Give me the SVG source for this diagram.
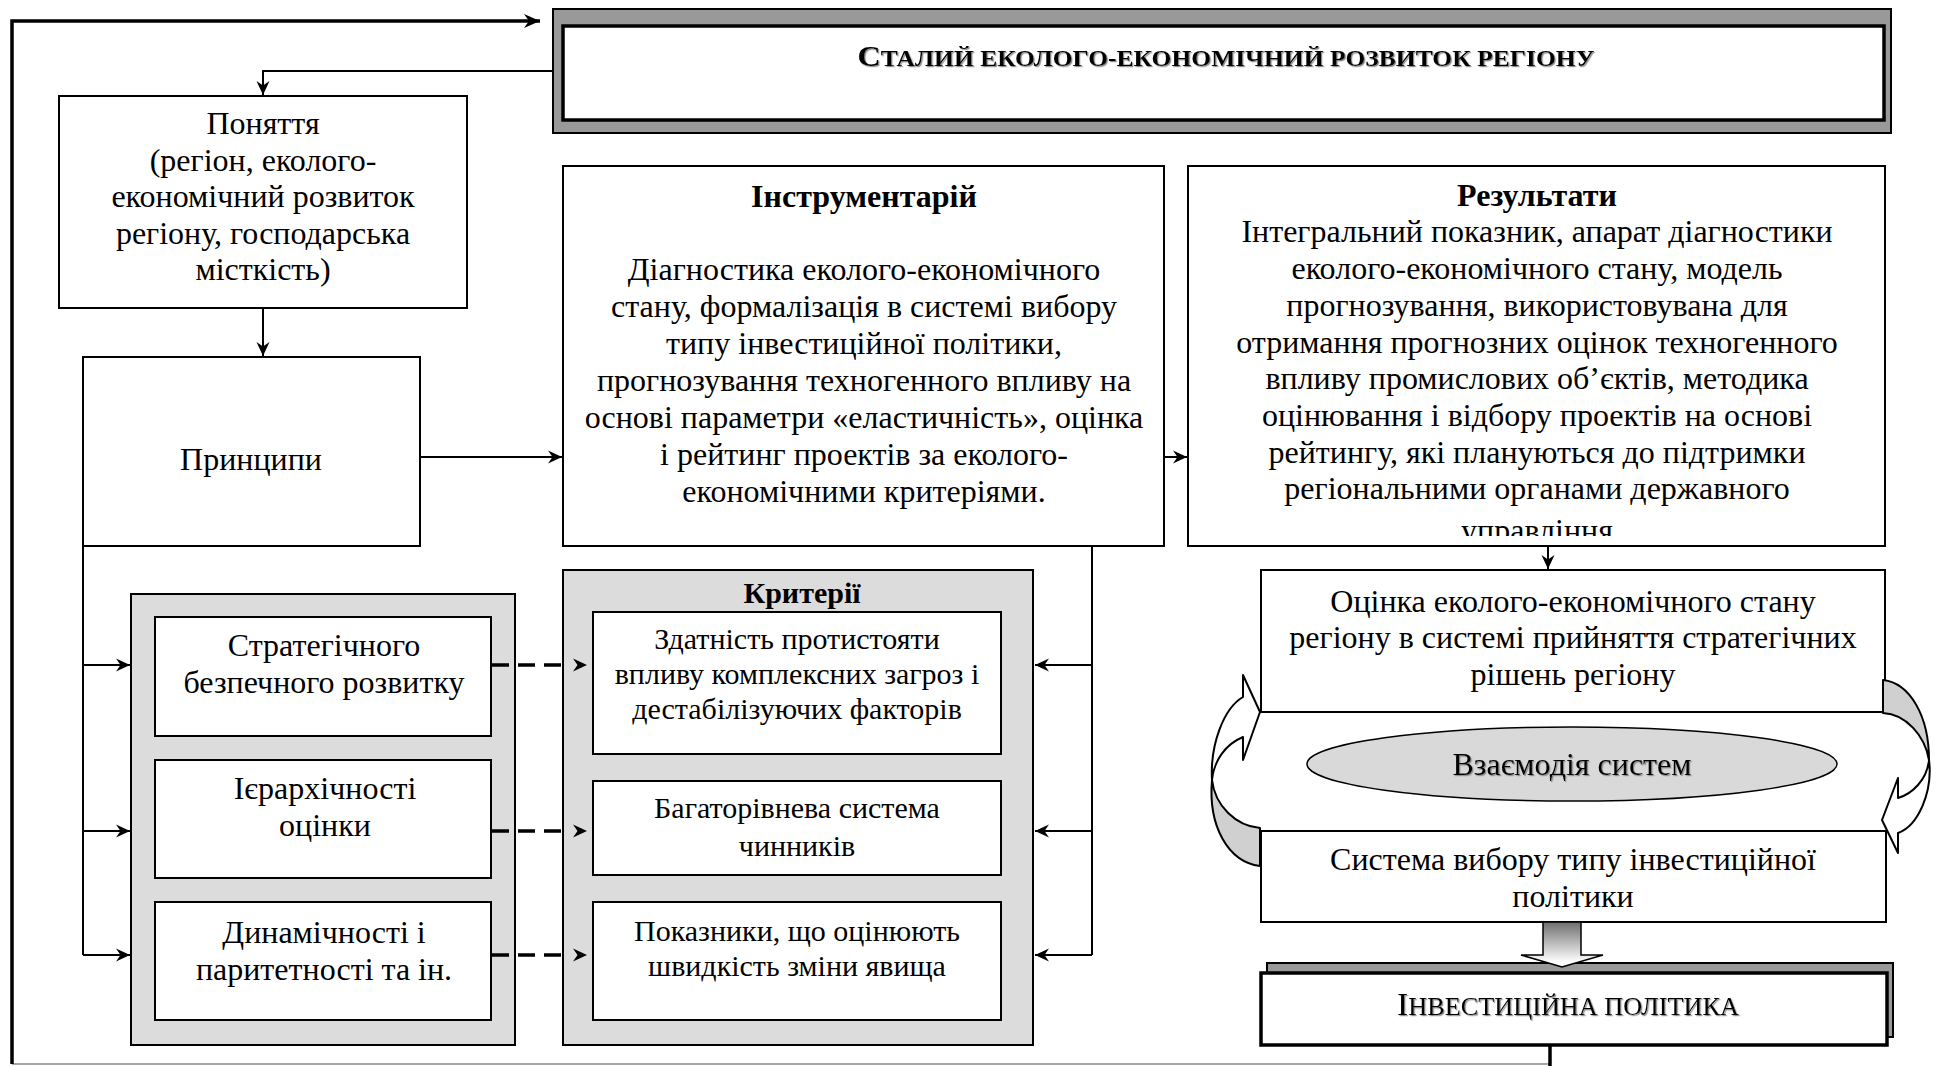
<svg xmlns="http://www.w3.org/2000/svg" width="1942" height="1066" viewBox="0 0 1942 1066">
  <style>
    .box { fill:#fff; stroke:#000; stroke-width:2; }
    .panel { fill:#dcdcdc; stroke:#000; stroke-width:2; }
    .t { font-family:"Liberation Serif","Times New Roman",serif; font-size:32px; text-anchor:middle; fill:#000; }
    .tc { font-size:30px; }
    .b { font-weight:bold; }
    .conn { fill:none; stroke:#000; stroke-width:2; }
    .thick { stroke-width:3.5; }
    .dash { stroke-width:3.5; stroke-dasharray:17 9; }
    .cyc { stroke:#000; stroke-width:2; stroke-linejoin:round; }
  </style>
  <defs>
    <marker id="ah" markerUnits="userSpaceOnUse" viewBox="-15 -8 16 16" refX="0" refY="0" markerWidth="16" markerHeight="16" orient="auto">
      <path d="M0,0 L-14,-6.5 L-9.5,0 L-14,6.5 Z" fill="#000"/>
    </marker>
    <!-- head set apart from the end of a dashed line -->
    <marker id="ahDash" markerUnits="userSpaceOnUse" viewBox="0 -8 28 16" refX="0" refY="0" markerWidth="28" markerHeight="16" orient="auto">
      <path d="M26,0 L12,-6.5 L16.5,0 L12,6.5 Z" fill="#000"/>
    </marker>
    <marker id="ahBig" markerUnits="userSpaceOnUse" viewBox="-17 -9 18 18" refX="0" refY="0" markerWidth="18" markerHeight="18" orient="auto">
      <path d="M0,0 L-16,-7 L-11,0 L-16,7 Z" fill="#000"/>
    </marker>
    <linearGradient id="shaft" x1="0" y1="922" x2="0" y2="962" gradientUnits="userSpaceOnUse">
      <stop offset="0" stop-color="#6e6e6e"/>
      <stop offset="1" stop-color="#ffffff"/>
    </linearGradient>
    <filter id="shadow" x="-5%" y="-20%" width="110%" height="150%">
      <feDropShadow dx="1.2" dy="1.2" stdDeviation="0.6" flood-color="#808080" flood-opacity="0.9"/>
    </filter>
    <clipPath id="resClip">
      <rect x="1188" y="166" width="697" height="370"/>
    </clipPath>
  </defs>

  <g id="title">
    <rect x="553" y="9" width="1338" height="124" fill="#999" stroke="#000" stroke-width="2"/>
    <rect x="563" y="26" width="1321" height="94" fill="#fff" stroke="#000" stroke-width="3.5"/>
    <text class="t b" x="1226" y="66" filter="url(#shadow)" textLength="737" lengthAdjust="spacingAndGlyphs"><tspan font-size="29">С</tspan><tspan font-size="23">ТАЛИЙ ЕКОЛОГО-ЕКОНОМІЧНИЙ РОЗВИТОК РЕГІОНУ</tspan></text>
  </g>

  <g id="concepts">
    <rect class="box" x="59" y="96" width="408" height="212"/>
    <text class="t" x="263" y="134">Поняття</text>
    <text class="t" x="263" y="171">(регіон, еколого-</text>
    <text class="t" x="263" y="207">економічний розвиток</text>
    <text class="t" x="263" y="244">регіону, господарська</text>
    <text class="t" x="263" y="280">місткість)</text>
  </g>

  <g id="principles">
    <rect class="box" x="83" y="357" width="337" height="189"/>
    <text class="t" x="251" y="470">Принципи</text>
  </g>

  <g id="tools">
    <rect class="box" x="563" y="166" width="601" height="380"/>
    <text class="t b" x="864" y="207">Інструментарій</text>
    <text class="t" x="864" y="280">Діагностика еколого-економічного</text>
    <text class="t" x="864" y="317">стану, формалізація в системі вибору</text>
    <text class="t" x="864" y="354">типу інвестиційної політики,</text>
    <text class="t" x="864" y="391">прогнозування техногенного впливу на</text>
    <text class="t" x="864" y="428">основі параметри «еластичність», оцінка</text>
    <text class="t" x="864" y="465">і рейтинг проектів за еколого-</text>
    <text class="t" x="864" y="502">економічними критеріями.</text>
  </g>

  <g id="results">
    <rect class="box" x="1188" y="166" width="697" height="380"/>
    <g clip-path="url(#resClip)">
      <text class="t b" x="1537" y="206">Результати</text>
      <text class="t" x="1537" y="242">Інтегральний показник, апарат діагностики</text>
      <text class="t" x="1537" y="279">еколого-економічного стану, модель</text>
      <text class="t" x="1537" y="316">прогнозування, використовувана для</text>
      <text class="t" x="1537" y="353">отримання прогнозних оцінок техногенного</text>
      <text class="t" x="1537" y="389">впливу промислових об’єктів, методика</text>
      <text class="t" x="1537" y="426">оцінювання і відбору проектів на основі</text>
      <text class="t" x="1537" y="463">рейтингу, які плануються до підтримки</text>
      <text class="t" x="1537" y="499">регіональними органами державного</text>
      <text class="t" x="1537" y="541">управління</text>
    </g>
  </g>

  <g id="principles-list">
    <rect class="panel" x="131" y="594" width="384" height="451"/>
    <g id="principle-strategic">
      <rect class="box" x="155" y="617" width="336" height="119"/>
      <text class="t" x="324" y="656">Стратегічного</text>
      <text class="t" x="324" y="693">безпечного розвитку</text>
    </g>
    <g id="principle-hierarchy">
      <rect class="box" x="155" y="760" width="336" height="118"/>
      <text class="t" x="325" y="799">Ієрархічності</text>
      <text class="t" x="325" y="836">оцінки</text>
    </g>
    <g id="principle-dynamics">
      <rect class="box" x="155" y="902" width="336" height="118"/>
      <text class="t" x="324" y="943">Динамічності і</text>
      <text class="t" x="324" y="980">паритетності та ін.</text>
    </g>
  </g>

  <g id="criteria">
    <rect class="panel" x="563" y="570" width="470" height="475"/>
    <text class="t tc b" x="802" y="603">Критерії</text>
    <g id="criterion-resilience">
      <rect class="box" x="593" y="612" width="408" height="142"/>
      <text class="t tc" x="797" y="649">Здатність протистояти</text>
      <text class="t tc" x="797" y="684">впливу комплексних загроз і</text>
      <text class="t tc" x="797" y="719">дестабілізуючих факторів</text>
    </g>
    <g id="criterion-factors">
      <rect class="box" x="593" y="781" width="408" height="94"/>
      <text class="t tc" x="797" y="818">Багаторівнева система</text>
      <text class="t tc" x="797" y="856">чинників</text>
    </g>
    <g id="criterion-indicators">
      <rect class="box" x="593" y="902" width="408" height="118"/>
      <text class="t tc" x="797" y="941">Показники, що оцінюють</text>
      <text class="t tc" x="797" y="976">швидкість зміни явища</text>
    </g>
  </g>

  <g id="assessment">
    <rect class="box" x="1261" y="570" width="624" height="142"/>
    <text class="t" x="1573" y="612">Оцінка еколого-економічного стану</text>
    <text class="t" x="1573" y="648">регіону в системі прийняття стратегічних</text>
    <text class="t" x="1573" y="685">рішень регіону</text>
  </g>

  <g id="interaction">
    <ellipse cx="1572" cy="764" rx="265" ry="37" fill="#d9d9d9" stroke="#000" stroke-width="1.5"/>
    <text class="t" x="1572" y="775" filter="url(#shadow)">Взаємодія систем</text>
  </g>

  <g id="policy-choice">
    <rect class="box" x="1261" y="831" width="625" height="91"/>
    <text class="t" x="1573" y="870">Система вибору типу інвестиційної</text>
    <text class="t" x="1573" y="907">політики</text>
  </g>

  <g id="investment-policy">
    <rect x="1267" y="963" width="626" height="74" fill="#999" stroke="#000" stroke-width="2"/>
    <rect x="1261" y="973" width="626" height="72" fill="#fff" stroke="#000" stroke-width="3.5"/>
    <text class="t" x="1568" y="1015" filter="url(#shadow)" textLength="342" lengthAdjust="spacingAndGlyphs"><tspan font-size="32">І</tspan><tspan font-size="25">НВЕСТИЦІЙНА ПОЛІТИКА</tspan></text>
  </g>

  <!-- connectors -->
  <g id="connectors">
    <!-- feedback loop round the whole scheme -->
    <path class="conn" d="M12,1064 L1550,1064" style="stroke:#a6a6a6"/>
    <path class="conn thick" d="M1550,1045 L1550,1066"/>
    <path class="conn thick" d="M12,1064 L12,21 L540,21" marker-end="url(#ahBig)"/>
    <!-- title to concepts -->
    <path class="conn" d="M552,71 L263,71 L263,95" marker-end="url(#ah)"/>
    <!-- concepts to principles -->
    <path class="conn" d="M263,308 L263,356" marker-end="url(#ah)"/>
    <!-- principles to tools, tools to results -->
    <path class="conn" d="M420,457 L562,457" marker-end="url(#ah)"/>
    <path class="conn" d="M1164,457 L1187,457" marker-end="url(#ah)"/>
    <!-- principles branch -->
    <path class="conn" d="M83,546 L83,955"/>
    <path class="conn" d="M83,665 L130,665" marker-end="url(#ah)"/>
    <path class="conn" d="M83,831 L130,831" marker-end="url(#ah)"/>
    <path class="conn" d="M83,955 L130,955" marker-end="url(#ah)"/>
    <!-- principles to criteria (dashed) -->
    <path class="conn dash" d="M492,665 L561,665" marker-end="url(#ahDash)"/>
    <path class="conn dash" d="M492,831 L561,831" marker-end="url(#ahDash)"/>
    <path class="conn dash" d="M492,955 L561,955" marker-end="url(#ahDash)"/>
    <!-- tools branch into criteria -->
    <path class="conn" d="M1092,546 L1092,955"/>
    <path class="conn" d="M1092,665 L1035,665" marker-end="url(#ah)"/>
    <path class="conn" d="M1092,831 L1035,831" marker-end="url(#ah)"/>
    <path class="conn" d="M1092,955 L1035,955" marker-end="url(#ah)"/>
    <!-- results to assessment -->
    <path class="conn" d="M1548,546 L1548,569" marker-end="url(#ah)"/>
    <!-- block arrow to investment policy -->
    <path d="M1543,922 L1581,922 L1581,955 L1603,955 L1562,967 L1521,955 L1543,955 Z" fill="url(#shaft)" stroke="#000" stroke-width="1.5"/>
    <!-- interaction cycle arrows -->
    <path class="cyc" fill="#d0d0d0" d="M1212,780 C1215,806 1236,826 1260,828 L1260,866 C1228,862 1208,826 1212,780 Z"/>
    <path class="cyc" fill="#fff" d="M1212,780 C1210,744 1224,708 1243,697 L1243,675 L1260,712 L1243,760 L1243,737 C1226,744 1214,760 1212,780 Z"/>
    <path class="cyc" fill="#d0d0d0" d="M1883,680 C1910,683 1929,716 1929,760 C1925,736 1906,714 1883,713 Z"/>
    <path class="cyc" fill="#fff" d="M1929,760 C1933,792 1918,826 1898,833 L1898,853 L1882,820 L1898,778 L1898,798 C1912,794 1927,780 1929,760 Z"/>
  </g>
</svg>
